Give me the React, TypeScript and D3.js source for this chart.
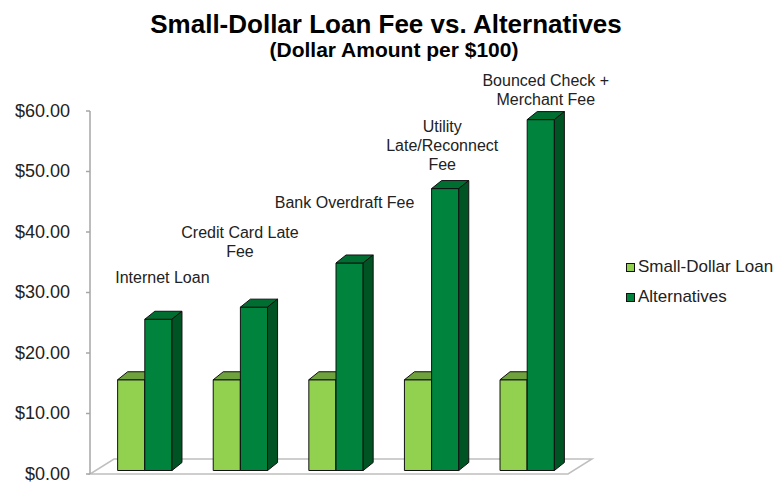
import React from "react";
import * as d3 from "d3";

const categories = ["Internet Loan", "Credit Card Late Fee", "Bank Overdraft Fee", "Utility Late/Reconnect Fee", "Bounced Check + Merchant Fee"];
const smallDollarLoan = [15, 15, 15, 15, 15];
const alternatives = [25, 27, 34.3, 46.6, 58];
const seriesNames = ["Small-Dollar Loan", "Alternatives"];
const yTicks = [0, 10, 20, 30, 40, 50, 60];
const labelLines = [["Internet Loan"], ["Credit Card Late", "Fee"], ["Bank Overdraft Fee"], ["Utility", "Late/Reconnect", "Fee"], ["Bounced Check +", "Merchant Fee"]];
// annotation placement: first-line baseline in axis units, and horizontal nudge
const labelTopValue = [31.5, 39, 44, 56.6, 64.1];
const labelNudge = [-1, -19, -10, -8, 0];

const W = 778, H = 483;
const FONT = "'Liberation Sans', Arial, Helvetica, sans-serif";

export default function App() {
  const y = d3.scaleLinear().domain([0, 60]).range([474, 111]);
  const x = d3.scaleBand<string>().domain(categories).range([90, 568]).paddingInner(0.4316).paddingOuter(0.2158);
  const floorD = { dx: 24, dy: -15 };
  const barD = { dx: 10, dy: -8 };
  const shift = { dx: 7, dy: -3.5 };
  const bw = x.bandwidth() / 2;

  const colors = [
    { front: "#92D050", top: "#6FA23C", side: "#5E8C32" },
    { front: "#00843D", top: "#006E31", side: "#005424" },
  ];

  const bar = (x0: number, v: number, c: any, key: string) => {
    const x1 = x0 + bw;
    const yb = y(0) + shift.dy;
    const yt = y(v) + shift.dy;
    const { dx, dy } = barD;
    return (
      <g key={key} stroke="#111" strokeWidth={1} strokeLinejoin="round">
        <rect x={x0} y={yt} width={bw} height={yb - yt} fill={c.front} />
        <polygon points={`${x0},${yt} ${x0 + dx},${yt + dy} ${x1 + dx},${yt + dy} ${x1},${yt}`} fill={c.top} />
        <polygon points={`${x1},${yt} ${x1 + dx},${yt + dy} ${x1 + dx},${yb + dy} ${x1},${yb}`} fill={c.side} />
      </g>
    );
  };

  return (
    <svg width={W} height={H} style={{ display: "block", position: "absolute", left: 0, top: 0 }} fontFamily={FONT}>
      <rect width={W} height={H} fill="#fff" />
      <text x={386} y={33} textAnchor="middle" fontSize={26} fontWeight="bold" fill="#000">Small-Dollar Loan Fee vs. Alternatives</text>
      <text x={394} y={57} textAnchor="middle" fontSize={21} fontWeight="bold" fill="#000">(Dollar Amount per $100)</text>

      {/* floor */}
      <polygon
        points={`${90},${y(0)} ${568},${y(0)} ${568 + floorD.dx},${y(0) + floorD.dy} ${90 + floorD.dx},${y(0) + floorD.dy}`}
        fill="#fff" stroke="#BFBFBF" strokeWidth={1.5} />
      {/* axis */}
      <line x1={90} x2={90} y1={y(60)} y2={y(0)} stroke="#A6A6A6" strokeWidth={1.5} />
      {yTicks.map((t) => (
        <g key={t}>
          <line x1={86} x2={90} y1={y(t)} y2={y(t)} stroke="#A6A6A6" strokeWidth={1.5} />
          <text x={70} y={y(t) + 5.5} textAnchor="end" fontSize={18} fill="#222">{`$${t.toFixed(2)}`}</text>
        </g>
      ))}

      {categories.map((cat, i) => {
        const x0 = (x(cat) as number) + shift.dx;
        return (
          <g key={cat}>
            {bar(x0, smallDollarLoan[i], colors[0], "a")}
            {bar(x0 + bw, alternatives[i], colors[1], "b")}
          </g>
        );
      })}

      {categories.map((cat, i) => {
        const cx = (x(cat) as number) + shift.dx + bw * 1.5 + barD.dx / 2 + labelNudge[i];
        return (
          <text key={cat} textAnchor="middle" fontSize={16} fill="#222">
            {labelLines[i].map((ln, j) => (
              <tspan key={j} x={cx} y={y(labelTopValue[i]) + j * 19}>{ln}</tspan>
            ))}
          </text>
        );
      })}

      {seriesNames.map((s, i) => (
        <g key={s}>
          <rect x={626.5} y={263.5 + i * 30} width={8} height={8} fill={colors[i].front} stroke="#111" strokeWidth={1} />
          <text x={638} y={272 + i * 30} fontSize={17} fill="#222">{s}</text>
        </g>
      ))}
    </svg>
  );
}
